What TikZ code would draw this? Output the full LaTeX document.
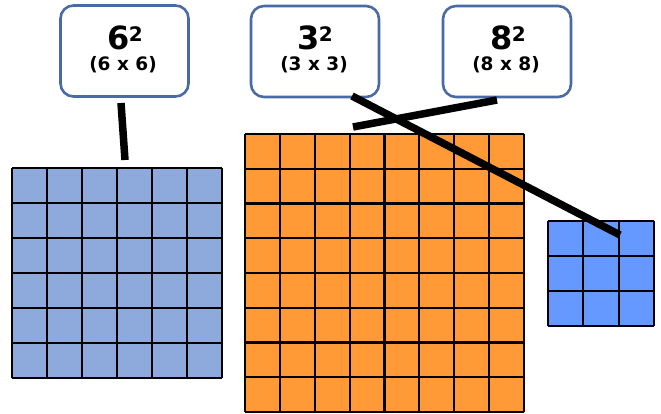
\documentclass[tikz,border=0pt]{standalone}
\usepackage{fontspec}
\setmainfont{DejaVu Sans}
\definecolor{gridblue}{HTML}{8EA9DB}
\definecolor{gridorange}{HTML}{FF9A36}
\definecolor{gridbright}{HTML}{6699FF}
\definecolor{boxedge}{HTML}{4A6AA5}
\tikzset{
  labelbox/.style={draw=boxedge, line width=2.6pt, rounded corners=13pt, fill=white,
    minimum width=128pt, minimum height=91pt, inner sep=0pt},
  bigtxt/.style={anchor=base, inner sep=0pt, font=\bfseries\fontsize{32}{32}\selectfont},
  smalltxt/.style={anchor=base, inner sep=0pt, font=\bfseries\fontsize{18.5}{18.5}\selectfont},
  cellline/.style={black, line width=2.1pt},
  conn/.style={black, line width=7.5pt},
}
\newcommand{\sqr}[1]{#1\kern-0.5pt\raisebox{8.5pt}{\fontsize{20}{20}\selectfont 2}}
\begin{document}
\begin{tikzpicture}[x=1pt,y=-1pt]
\useasboundingbox (0,0) rectangle (661,414);
% grids
\fill[gridblue] (12,168) rectangle (222,378);
\foreach \i in {0,...,6} {
  \draw[cellline] (12+35*\i,168) -- (12+35*\i,378);
  \draw[cellline] (12,168+35*\i) -- (222,168+35*\i);
}
\fill[gridorange] (245,134) rectangle (524,412);
\foreach \i in {0,...,8} {
  \draw[cellline] (245+34.875*\i,134) -- (245+34.875*\i,412);
  \draw[cellline] (245,134+34.75*\i) -- (524,134+34.75*\i);
}
\fill[gridbright] (548,221) rectangle (654,326);
\foreach \i in {0,...,3} {
  \draw[cellline] (548+35.33*\i,221) -- (548+35.33*\i,326);
  \draw[cellline] (548,221+35*\i) -- (654,221+35*\i);
}
% label boxes
\node[labelbox] (b6) at (124.5,51) {};
\node[labelbox] (b3) at (315,51.5) {};
\node[labelbox] (b8) at (507,51.5) {};
\node[bigtxt] (t6) at (125,50) {\sqr{6}};
\node[smalltxt] (p6) at (123,71) {(6 x 6)};
\node[bigtxt] (t3) at (315,50) {\sqr{3}};
\node[smalltxt] (p3) at (314,71) {(3 x 3)};
\node[bigtxt] (t8) at (508,50) {\sqr{8}};
\node[smalltxt] (p8) at (506,71) {(8 x 8)};
% connector ends
\coordinate (s6) at (121,103);
\coordinate (e6) at (125,160);
\coordinate (s3) at (352,96);
\coordinate (e3) at (620,235);
\coordinate (s8) at (497,100);
\coordinate (e8) at (353,127);
\draw[conn] (s6) -- (e6);
\draw[conn] (s3) -- (e3);
\draw[conn] (s8) -- (e8);
\end{tikzpicture}
\end{document}
